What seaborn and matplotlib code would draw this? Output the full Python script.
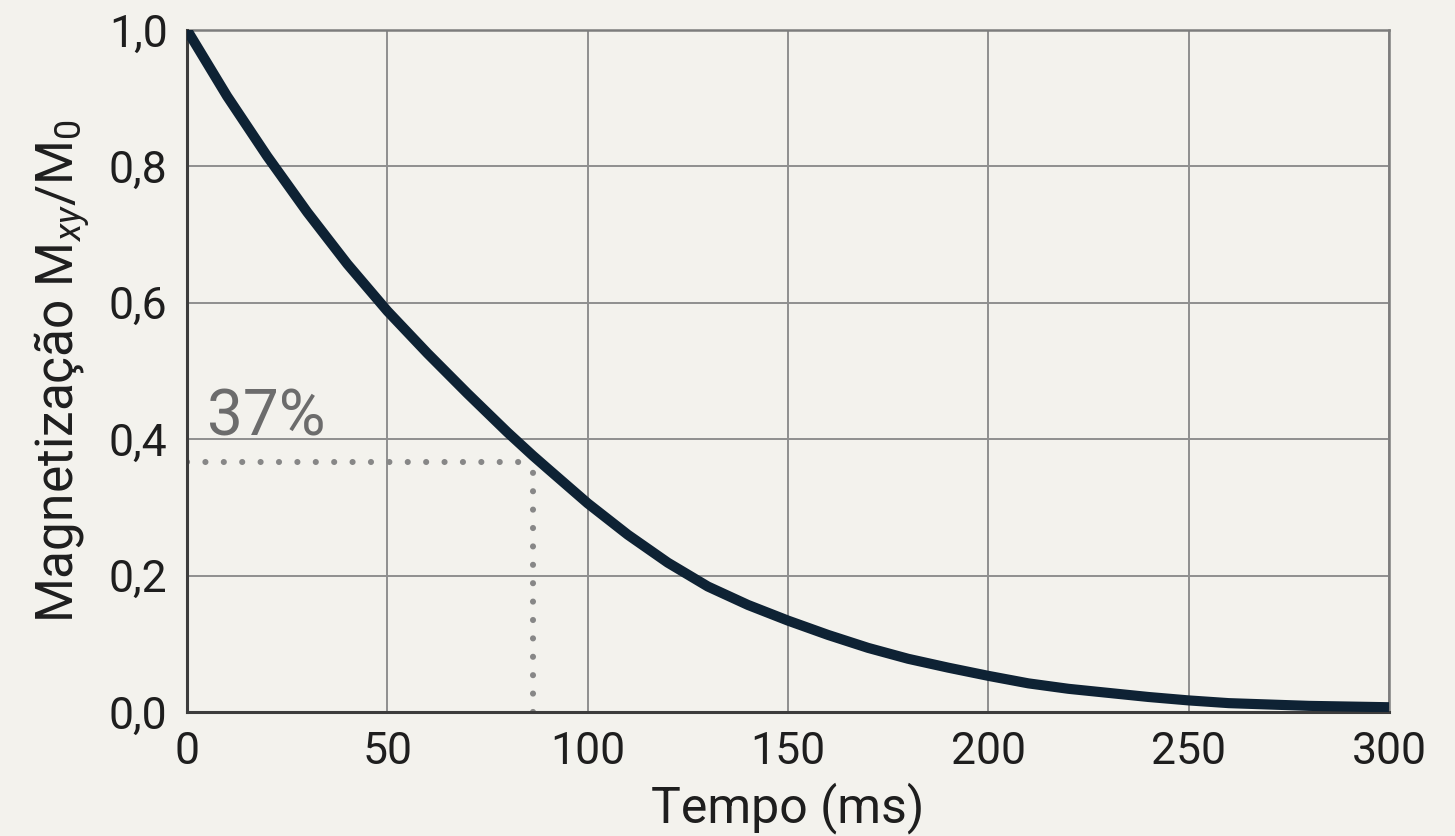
import numpy as np
import pandas as pd
import seaborn as sns
import matplotlib
matplotlib.use("Agg")
import matplotlib.pyplot as plt

# ---- data ----
tempo_ms = [0, 10, 20, 30, 40, 50, 60, 70, 80, 86.3, 90, 100, 110, 120,
            130, 140, 150, 160, 170, 180, 190, 200, 210, 220, 230, 240,
            250, 260, 270, 280, 290, 300]
magnetizacao = [1.000, 0.903, 0.815, 0.733, 0.657, 0.588, 0.526, 0.467,
                0.410, 0.376, 0.357, 0.306, 0.260, 0.219, 0.184, 0.157,
                0.134, 0.113, 0.094, 0.078, 0.065, 0.053, 0.042, 0.034,
                0.028, 0.022, 0.017, 0.013, 0.011, 0.009, 0.008, 0.007]
t37 = 86.3
m37 = 0.366
x_ticks = [0, 50, 100, 150, 200, 250, 300]
y_ticks = [0.0, 0.2, 0.4, 0.6, 0.8, 1.0]
y_ticklabels = ["0,0", "0,2", "0,4", "0,6", "0,8", "1,0"]
label_37 = "37%"
xlabel = "Tempo (ms)"
ylabel = r"Magnetização M$_{xy}$/M$_0$"

df = pd.DataFrame({"t": tempo_ms, "m": magnetizacao})

sns.set_theme(style="white")
bg = "#f3f2ed"
plt.rcParams["font.family"] = ["Roboto", "DejaVu Sans"]
plt.rcParams["mathtext.fontset"] = "custom"
plt.rcParams["mathtext.rm"] = "Roboto"
plt.rcParams["mathtext.it"] = "Roboto:italic"

fig = plt.figure(figsize=(14.55, 8.36), dpi=100, facecolor=bg)
ax = fig.add_axes([187/1455, 1-712/836, (1389-187)/1455, (712-30)/836])
ax.set_facecolor(bg)

ax.set_xlim(0, 300)
ax.set_ylim(0, 1.0)
ax.set_xticks(x_ticks)
ax.set_yticks(y_ticks)
ax.set_yticklabels(y_ticklabels)
ax.grid(True, color="#8f8f8f", linewidth=1.4, zorder=0)
ax.set_axisbelow(True)

# dotted guide lines
dot_style = dict(color="#878787", linewidth=4.4, linestyle=(0, (0.01, 3.0)),
                 dash_capstyle="round", zorder=2)
ax.plot([0, t37], [m37, m37], **dot_style)
ax.plot([t37, t37], [0, m37], **dot_style)

# curve
sns.lineplot(data=df, x="t", y="m", ax=ax, color="#0e2234", linewidth=7.3,
             solid_capstyle="butt", solid_joinstyle="round", zorder=4)

ax.text(5.0, 0.405, label_37, fontsize=46, color="#6c6c6c",
        ha="left", va="baseline", zorder=5)

# spines
for s in ["top", "right"]:
    ax.spines[s].set_color("#7d7d7d")
    ax.spines[s].set_linewidth(1.8)
for s in ["left", "bottom"]:
    ax.spines[s].set_color("#3c3c3c")
    ax.spines[s].set_linewidth(2.2)
    ax.spines[s].set_zorder(3)

ax.tick_params(axis="both", length=0, labelsize=32, colors="#1e1e1e")
ax.tick_params(axis="x", pad=14)
ax.tick_params(axis="y", pad=14)

ax.set_xlabel(xlabel, fontsize=36, color="#1e1e1e", labelpad=6)
ax.set_ylabel(ylabel, fontsize=37, color="#1e1e1e", labelpad=13)

fig.savefig("out.png", dpi=100, facecolor=bg)
